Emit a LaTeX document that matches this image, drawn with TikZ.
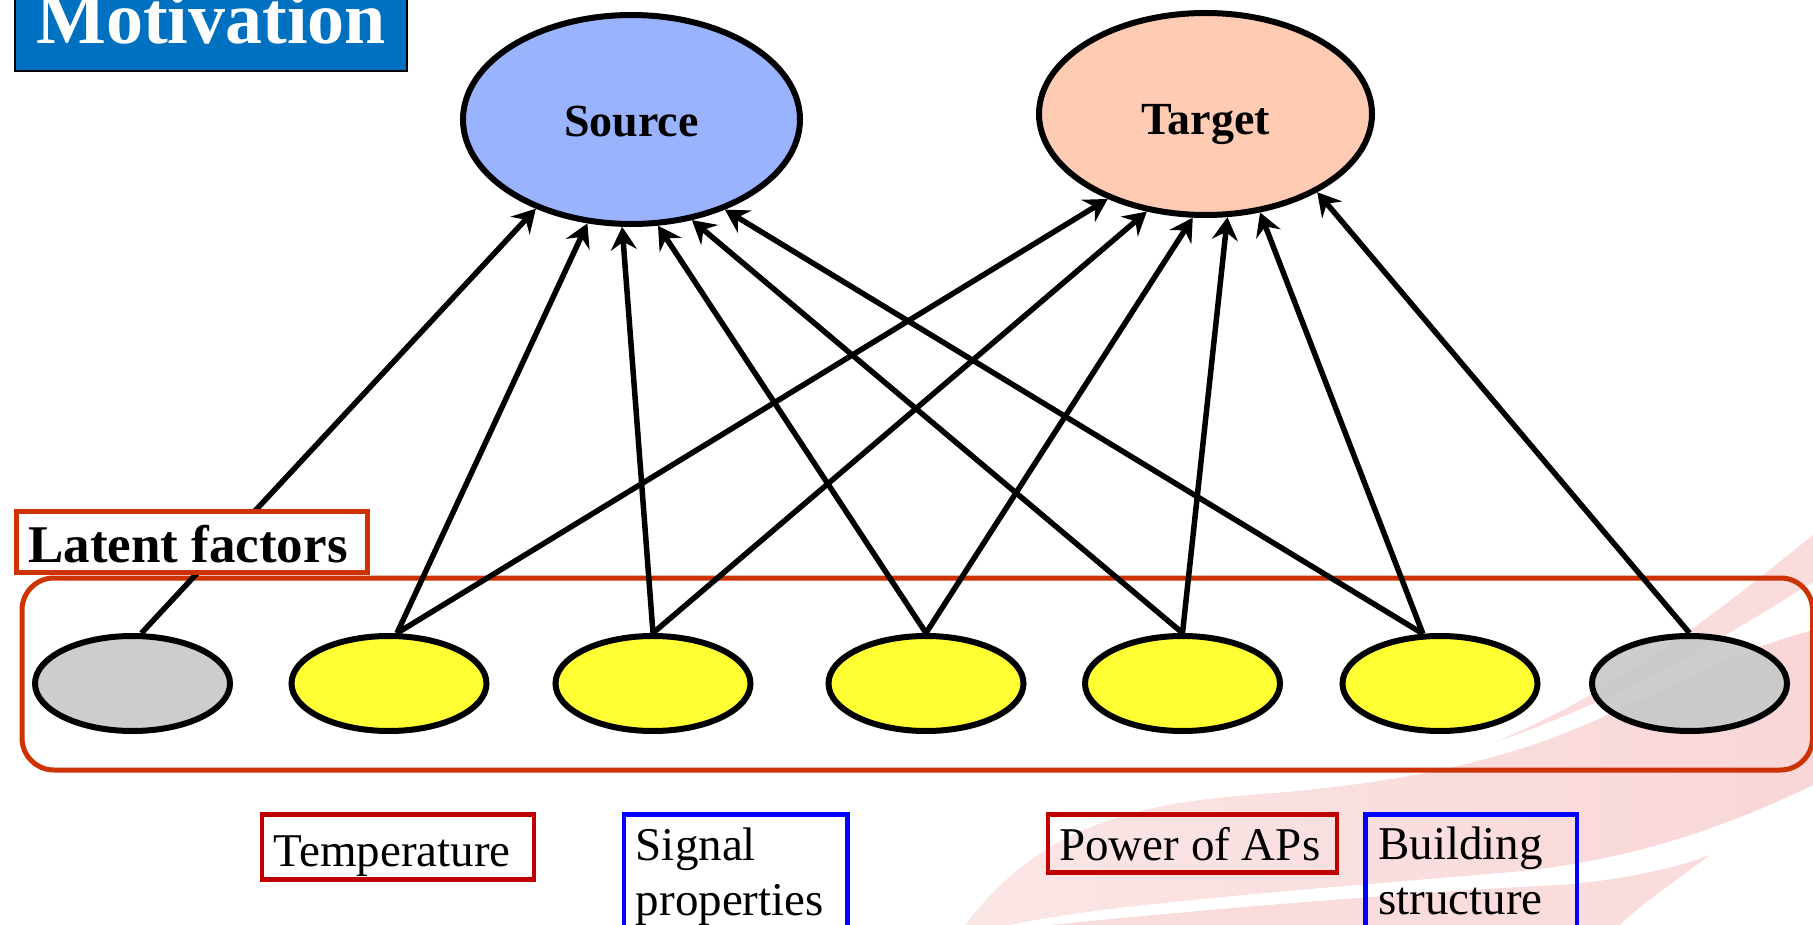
\documentclass[tikz,border=0pt]{standalone}
\usepackage{fontspec}
\setmainfont{Liberation Serif}
\usetikzlibrary{arrows.meta,shapes.geometric}

\definecolor{titleblue}{RGB}{0,112,192}
\definecolor{srcblue}{RGB}{153,179,255}
\definecolor{tgtpeach}{RGB}{255,204,179}
\definecolor{factyellow}{RGB}{255,255,51}
\definecolor{factgray}{RGB}{200,200,200}
\definecolor{frameorange}{RGB}{204,51,0}
\definecolor{boxred}{RGB}{192,0,0}
\definecolor{boxblue}{RGB}{0,0,255}
\definecolor{pinkdeep}{RGB}{244,185,198}
\definecolor{pinklight}{RGB}{251,230,230}
\definecolor{pinkmid}{RGB}{249,214,215}
\definecolor{pinksoft}{RGB}{250,220,220}

\begin{document}
\begin{tikzpicture}[x=1pt,y=-1pt,
  domainnode/.style={ellipse, draw, line width=6pt, inner sep=0pt,
    font=\fontsize{46}{50}\selectfont\bfseries, text height=31pt, text depth=0pt},
  factor/.style={ellipse, draw, line width=6pt, minimum width=195pt,
    minimum height=95pt, inner sep=0pt},
  conn/.style={line width=5.5pt,
    -{Stealth[length=23pt,width=26pt,inset=8pt]}},
  lblbox/.style={draw, line width=4.5pt, font=\fontsize{47}{55}\selectfont,
    inner ysep=0pt, anchor=north west}]

\useasboundingbox (0,0) rectangle (1813,925);

% decorative ribbon in the lower right corner
\shade[left color=pinklight, middle color=pinkdeep, right color=pinkmid]
  (965,925) .. controls (1030,840) and (1110,805) .. (1250,795)
  .. controls (1380,785) and (1450,770) .. (1510,752)
  .. controls (1620,720) and (1700,660) .. (1813,630)
  -- (1813,785)
  .. controls (1700,840) and (1600,865) .. (1500,873)
  .. controls (1300,890) and (1100,905) .. (1010,925) -- cycle;
\fill[pinksoft]
  (1813,535) .. controls (1720,610) and (1620,690) .. (1495,742)
  .. controls (1620,700) and (1720,640) .. (1813,582) -- cycle;
\fill[pinksoft]
  (1050,925) .. controls (1250,905) and (1450,890) .. (1560,885)
  .. controls (1620,880) and (1670,870) .. (1710,855)
  .. controls (1670,885) and (1640,905) .. (1620,925) -- cycle;

% frame around the latent factors
\node[draw=frameorange, line width=5pt, rounded corners=32pt,
  minimum width=1790.5pt, minimum height=192pt, inner sep=0pt,
  anchor=north west] (frame) at (19.5,575.5) {};

% source and target domains
\node[domainnode, fill=srcblue, minimum width=337pt, minimum height=209pt]
  (src) at (631.5,119.5) {\raisebox{-2pt}{Source}};
\node[domainnode, fill=tgtpeach, minimum width=333pt, minimum height=202pt]
  (tgt) at (1205.5,114) {\raisebox{-5.5pt}{Target}};

% latent factors
\node[factor, fill=factgray, fill opacity=0.9] (f1) at (132.5,683.5) {};
\node[factor, fill=factyellow] (f2) at (389,683.5) {};
\node[factor, fill=factyellow] (f3) at (653,683.5) {};
\node[factor, fill=factyellow] (f4) at (926,683.5) {};
\node[factor, fill=factyellow] (f5) at (1182.5,683.5) {};
\node[factor, fill=factyellow] (f6) at (1440,683.5) {};
\node[factor, fill=factgray, fill opacity=0.9] (f7) at (1689.5,683.5) {};

% dependencies
\draw[conn] (f1.80)  -- (src.-137);
\draw[conn] (f2.81)  -- (src.-113);
\draw[conn] (f3.north) -- (src.-95);
\draw[conn] (f4.north) -- (src.-76);
\draw[conn] (f5.north) -- (src.-59);
\draw[conn] (f6.109) -- (src.-44);
\draw[conn] (f2.81)  -- (tgt.-139);
\draw[conn] (f3.north) -- (tgt.-121);
\draw[conn] (f4.north) -- (tgt.-97);
\draw[conn] (f5.north) -- (tgt.-78);
\draw[conn] (f6.109) -- (tgt.-61);
\draw[conn] (f7.north) -- (tgt.-35);

% heading of the frame
\node[draw=frameorange, fill=white, line width=4.5pt,
  font=\fontsize{53}{60}\selectfont\bfseries,
  inner xsep=12pt, inner ysep=0pt, text height=51pt, text depth=10pt,
  anchor=north west] (latent) at (14,509) {\makebox[327pt][l]{Latent factors}};

% factor names
\node[lblbox, draw=boxred, inner xsep=11.9pt, text height=52pt, text depth=13pt]
  (temp) at (259.7,812) {\makebox[248.4pt][l]{Temperature}};
\node[lblbox, draw=boxblue, inner xsep=11.8pt, text height=46pt, text depth=82pt]
  (signal) at (621.8,812)
  {\makebox[199.6pt][l]{\begin{tabular}[t]{@{}l@{}}Signal\\properties\end{tabular}}};
\node[lblbox, draw=boxred, inner xsep=11.3pt, text height=46pt, text depth=12pt]
  (power) at (1045.7,812) {\makebox[266.6pt][l]{Power of APs}};
\node[lblbox, draw=boxblue, inner xsep=12.6pt, text height=45pt, text depth=83pt]
  (building) at (1363.4,812)
  {\makebox[186.2pt][l]{\begin{tabular}[t]{@{}l@{}}Building\\structure\end{tabular}}};

% slide title
\node[fill=titleblue, draw=black, line width=2pt, text=white,
  font=\fontsize{74}{80}\selectfont\bfseries, minimum width=392pt,
  inner sep=0pt, text height=80pt, text depth=27pt, anchor=south west]
  (title) at (14,72) {Motivation};
\end{tikzpicture}
\end{document}
